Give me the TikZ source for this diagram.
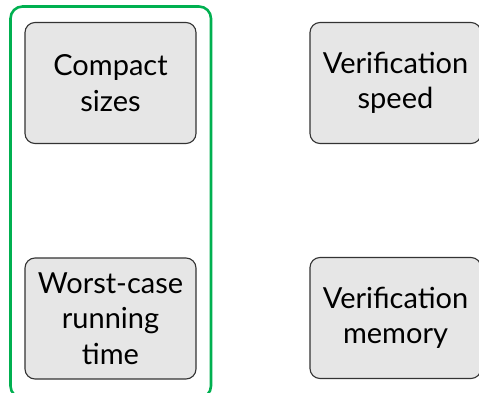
\documentclass[tikz,border=0pt]{standalone}
\usepackage{fontspec}
\setmainfont{Lato}
\definecolor{boxfill}{HTML}{E6E6E6}
\definecolor{boxline}{HTML}{333333}
\definecolor{grpgreen}{HTML}{00B050}
\begin{document}
\begin{tikzpicture}[x=1pt,y=1pt,
  card/.style={draw=boxline, fill=boxfill, line width=1.1pt, rounded corners=10pt,
    minimum width=171pt, minimum height=121pt, inner sep=0pt, align=center,
    font=\fontsize{29}{35.5}\selectfont},
  group/.style={draw=grpgreen, line width=2.6pt, rounded corners=12pt}]
\useasboundingbox (0,0) rectangle (479,-393);
\clip (0,0) rectangle (479,-393);
\draw[group] (10.5,-6.5) rectangle (211,-398);
\node[card] (cs) at (110.5,-83) {Compact\\sizes};
\node[card] (vs) at (395.5,-83) {Verification\\speed};
\node[card] (wc) at (110.5,-318.5) {Worst-case\\running\\time};
\node[card] (vm) at (395.5,-318) {Verification\\memory};
\end{tikzpicture}
\end{document}
